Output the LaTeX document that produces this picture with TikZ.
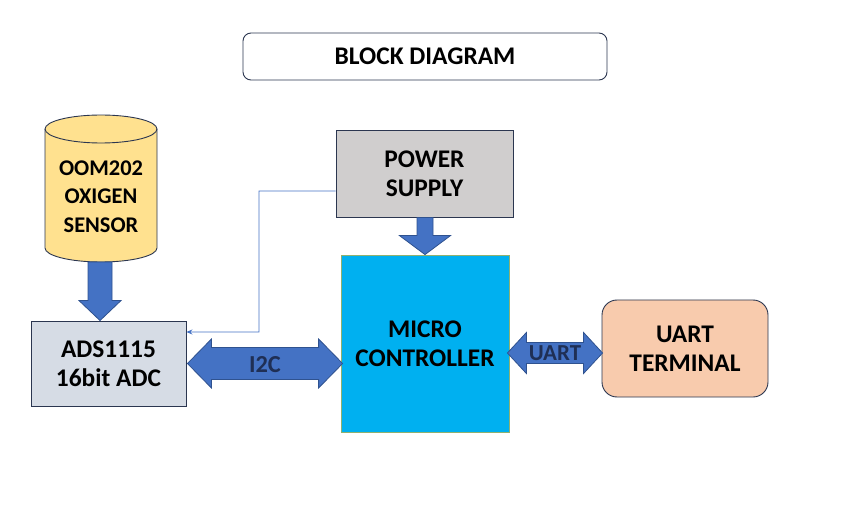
\documentclass[tikz,border=0pt]{standalone}
\usepackage{fontspec}
\setmainfont{Carlito}
\usetikzlibrary{calc,arrows.meta}
\definecolor{navy}{HTML}{2B3650}
\definecolor{adsfill}{HTML}{D6DCE5}
\definecolor{psfill}{HTML}{D0CECE}
\definecolor{mcufill}{HTML}{00B0F0}
\definecolor{mcuedge}{HTML}{8FB070}
\definecolor{uartfill}{HTML}{F8CBAD}
\definecolor{cylfill}{HTML}{FFE18F}
\definecolor{arrfill}{HTML}{4472C4}
\definecolor{arredge}{HTML}{2F528F}
\definecolor{ulbl}{HTML}{1F2F55}
\tikzset{
  lbl/.style={font=\fontsize{25.5}{29.5}\selectfont\bfseries, align=center, text=black},
  box/.style={draw=navy, line width=0.9bp, lbl, inner sep=0pt},
  blockarrow/.style={fill=arrfill, draw=arredge, line width=0.8bp, line join=miter},
}
\begin{document}
\begin{tikzpicture}[x=1bp,y=-1bp]
\useasboundingbox (0,0) rectangle (842,511);
% title
\node[draw=navy, line width=0.9bp, rounded corners=8bp, minimum width=364bp, minimum height=47bp,
      font=\fontsize{25.5}{29}\selectfont\bfseries] (title) at (425,56.5) {BLOCK DIAGRAM};
% cylinder sensor
\path[fill=cylfill, draw=navy, line width=0.9bp]
  (45,129) -- (45,248) arc[start angle=180, end angle=360, x radius=56, y radius=-14]
  -- (157,129) arc[start angle=0, end angle=180, x radius=56, y radius=-14] -- cycle;
\draw[navy, line width=0.9bp] (45,129) arc[start angle=180, end angle=360, x radius=56, y radius=-14];
\node[lbl, font=\fontsize{22.5}{28.5}\selectfont\bfseries] (sensor) at (101,196.5) {OOM202\\OXIGEN\\SENSOR};
\coordinate (sensorbot) at (100,262);
% ADS
\node[box, fill=adsfill, minimum width=155bp, minimum height=85bp] (ads) at (108.5,363.5) {ADS1115\\16bit ADC};
% power supply
\node[box, fill=psfill, minimum width=177bp, minimum height=87bp] (ps) at (424.5,173.5) {POWER\\SUPPLY};
% MCU
\node[draw=mcuedge, line width=0.8bp, fill=mcufill, lbl, minimum width=168bp, minimum height=177bp] (mcu) at (425,343.5) {MICRO\\CONTROLLER};
% UART terminal
\node[box, fill=uartfill, rounded corners=15bp, minimum width=166bp, minimum height=97bp] (uart) at (685,348.5) {UART\\TERMINAL};
% sensor -> ADS arrow
\coordinate (adstip) at (ads.north -| sensorbot);
\path[blockarrow] ($(sensorbot)+(-12,0)$) -- ($(sensorbot)+(12,0)$) -- ($(adstip)+(12,-20)$)
  -- ($(adstip)+(21,-20)$) -- (adstip) -- ($(adstip)+(-21,-20)$) -- ($(adstip)+(-12,-20)$) -- cycle;
% power -> MCU arrow
\coordinate (pstop) at (ps.south -| mcu.north);
\path[blockarrow] ($(pstop)+(-8,0)$) -- ($(pstop)+(8,0)$) -- ($(mcu.north)+(8,-19)$)
  -- ($(mcu.north)+(25.5,-19)$) -- (mcu.north) -- ($(mcu.north)+(-25.5,-19)$) -- ($(mcu.north)+(-8,-19)$) -- cycle;
% I2C double arrow
\coordinate (i2cl) at ($(ads.east)+(1,0)$);
\coordinate (i2cr) at ($(mcu.west |- ads.east)+(2,0)$);
\path[blockarrow] (i2cl) -- ($(i2cl)+(24,-24.5)$) -- ($(i2cl)+(24,-16)$) -- ($(i2cr)+(-24,-16)$)
  -- ($(i2cr)+(-24,-24.5)$) -- (i2cr) -- ($(i2cr)+(-24,24.5)$) -- ($(i2cr)+(-24,16)$)
  -- ($(i2cl)+(24,16)$) -- ($(i2cl)+(24,24.5)$) -- cycle;
\node[font=\fontsize{24.5}{28}\selectfont\bfseries, text=ulbl] (i2clbl) at (265,365) {I2C};
% UART double arrow
\coordinate (ual) at ($(mcu.east)+(-2,9.5)$);
\coordinate (uar) at ($(uart.west)+(1,4.5)$);
\path[blockarrow] (ual) -- ($(ual)+(19,-20.5)$) -- ($(ual)+(19,-10.5)$) -- ($(uar)+(-19,-10.5)$)
  -- ($(uar)+(-19,-20.5)$) -- (uar) -- ($(uar)+(-19,20.5)$) -- ($(uar)+(-19,10.5)$)
  -- ($(ual)+(19,10.5)$) -- ($(ual)+(19,20.5)$) -- cycle;
\node[font=\fontsize{23}{26}\selectfont\bfseries, text=ulbl] (uartlbl) at (555,353) {UART};
% thin line from power supply to ADS
\coordinate (pw1) at ($(ps.west)+(0,17.5)$);
\coordinate (pw2) at (259,191);
\coordinate (pw3) at (259,332);
\draw[arrfill, line width=0.8bp, -{Stealth[length=6bp,width=5bp]}] (pw1) -- (pw2) -- (pw3) -- (ads.east |- pw3);
\end{tikzpicture}
\end{document}
